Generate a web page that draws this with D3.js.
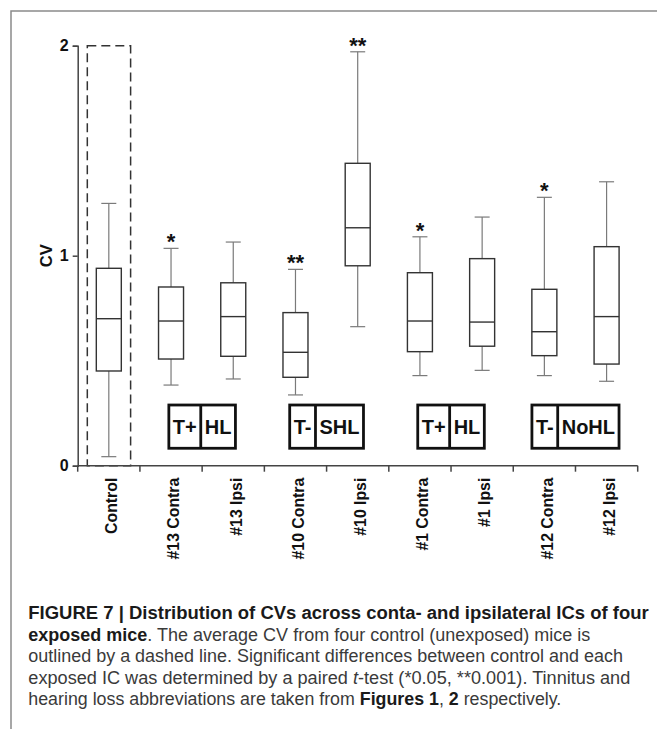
<!DOCTYPE html>
<html>
<head>
<meta charset="utf-8">
<script src="https://cdn.jsdelivr.net/npm/d3@7/dist/d3.min.js"></script>
<style>
  html, body { margin: 0; padding: 0; background: #fff; }
  svg { display: block; }
</style>
</head>
<body>
<svg id="chart" width="657" height="729"></svg>
<script>
// ---------------- data ----------------
const categories = ["Control", "#13 Contra", "#13 Ipsi", "#10 Contra", "#10 Ipsi", "#1 Contra", "#1 Ipsi", "#12 Contra", "#12 Ipsi"];
const whiskerLow  = [0.043, 0.384, 0.413, 0.337, 0.662, 0.429, 0.454, 0.429, 0.402];
const q1Values    = [0.451, 0.508, 0.521, 0.421, 0.952, 0.543, 0.569, 0.524, 0.484];
const medians     = [0.700, 0.689, 0.710, 0.540, 1.133, 0.689, 0.684, 0.638, 0.710];
const q3Values    = [0.940, 0.851, 0.871, 0.729, 1.440, 0.919, 0.986, 0.840, 1.043];
const whiskerHigh = [1.249, 1.035, 1.065, 0.935, 1.971, 1.090, 1.184, 1.278, 1.352];
const significance = ["", "*", "", "**", "**", "*", "", "*", ""];
const yTicks = [0, 1, 2];
const controlOutline = [0, 2];            // dashed outline spans CV 0..2
const groupPairs = [["#13 Contra", "#13 Ipsi"], ["#10 Contra", "#10 Ipsi"], ["#1 Contra", "#1 Ipsi"], ["#12 Contra", "#12 Ipsi"]];
const groupTinnitus = ["T+", "T-", "T+", "T-"];
const groupHearing  = ["HL", "SHL", "HL", "NoHL"];
const captionLines = [
  [{t: "FIGURE 7 | Distribution of CVs across conta- and ipsilateral ICs of four", b: 1}],
  [{t: "exposed mice", b: 1}, {t: ". The average CV from four control (unexposed) mice is"}],
  [{t: "outlined by a dashed line. Significant differences between control and each"}],
  [{t: "exposed IC was determined by a paired "}, {t: "t", i: 1}, {t: "-test (*0.05, **0.001). Tinnitus and"}],
  [{t: "hearing loss abbreviations are taken from "}, {t: "Figures 1", b: 1}, {t: ", "}, {t: "2", b: 1}, {t: " respectively."}]
];
const captionEnds = [648.7, 590.3, 623, 630.3, 561.3];

// ---------------- layout ----------------
const FONT = "'Liberation Sans', Arial, Helvetica, sans-serif";
const svg = d3.select("#chart");
const x = d3.scaleBand().domain(categories).range([77.7, 637.7]).padding(0);
const y = d3.scaleLinear().domain([0, 2]).range([465.7, 45.7]);
const boxW = 25, capW = 15;

// outer frame
svg.append("rect").attr("x", 11).attr("y", 11).attr("width", 720).attr("height", 800)
  .attr("fill", "none").attr("stroke", "#8a8a8a").attr("stroke-width", 1.5);

// dashed control outline
const cx0 = x("Control") + x.bandwidth() / 2;
svg.append("rect")
  .attr("x", cx0 - 21.5).attr("width", 43.3)
  .attr("y", y(controlOutline[1])).attr("height", y(controlOutline[0]) - y(controlOutline[1]))
  .attr("fill", "none").attr("stroke", "#333").attr("stroke-width", 1.5)
  .attr("stroke-dasharray", "9,5");

// boxes
const data = categories.map((c, i) => ({c, lo: whiskerLow[i], q1: q1Values[i], md: medians[i], q3: q3Values[i], hi: whiskerHigh[i], s: significance[i]}));
const g = svg.append("g").selectAll("g").data(data).join("g")
  .attr("transform", d => `translate(${x(d.c) + x.bandwidth() / 2},0)`);

g.append("line").attr("x1", 0).attr("x2", 0).attr("y1", d => y(d.hi)).attr("y2", d => y(d.q3))
  .attr("stroke", "#7a7a7a").attr("stroke-width", 1.2);
g.append("line").attr("x1", 0).attr("x2", 0).attr("y1", d => y(d.q1)).attr("y2", d => y(d.lo))
  .attr("stroke", "#7a7a7a").attr("stroke-width", 1.2);
g.append("line").attr("x1", -capW / 2).attr("x2", capW / 2).attr("y1", d => y(d.hi)).attr("y2", d => y(d.hi))
  .attr("stroke", "#7a7a7a").attr("stroke-width", 1.2);
g.append("line").attr("x1", -capW / 2).attr("x2", capW / 2).attr("y1", d => y(d.lo)).attr("y2", d => y(d.lo))
  .attr("stroke", "#7a7a7a").attr("stroke-width", 1.2);
g.append("rect").attr("x", -boxW / 2).attr("width", boxW)
  .attr("y", d => y(d.q3)).attr("height", d => y(d.q1) - y(d.q3))
  .attr("fill", "#fff").attr("stroke", "#333").attr("stroke-width", 1.4);
g.append("line").attr("x1", -boxW / 2).attr("x2", boxW / 2).attr("y1", d => y(d.md)).attr("y2", d => y(d.md))
  .attr("stroke", "#333").attr("stroke-width", 1.4);
g.filter(d => d.s).append("text")
  .attr("x", 0).attr("y", d => y(d.hi) + 1)
  .attr("text-anchor", "middle").attr("font-family", FONT).attr("font-weight", "bold")
  .attr("font-size", 22).attr("fill", "#111").text(d => d.s);

// y axis
const yAxis = svg.append("g").attr("transform", `translate(77.7,0)`)
  .call(d3.axisLeft(y).tickValues(yTicks).tickFormat(d3.format("d")).tickSize(5).tickPadding(4));
yAxis.select(".domain").attr("stroke", "#444").attr("stroke-width", 1.5);
yAxis.selectAll(".tick line").attr("stroke", "#444").attr("stroke-width", 1.5);
yAxis.selectAll(".tick text").attr("font-family", FONT).attr("font-weight", "bold")
  .attr("font-size", 16).attr("fill", "#111");

svg.append("text").attr("transform", `translate(52,${(y(0) + y(2)) / 2}) rotate(-90)`)
  .attr("text-anchor", "middle").attr("font-family", FONT).attr("font-weight", "bold")
  .attr("font-size", 16.5).attr("fill", "#111").text("CV");

// x axis
const xAxisG = svg.append("g").attr("transform", `translate(0,${y(0)})`);
xAxisG.append("line").attr("x1", x.range()[0]).attr("x2", x.range()[1]).attr("y1", 0).attr("y2", 0)
  .attr("stroke", "#444").attr("stroke-width", 1.5);
const boundaries = categories.map(c => x(c)).concat([x.range()[1]]);
xAxisG.selectAll("line.tk").data(boundaries).join("line").attr("class", "tk")
  .attr("x1", d => d).attr("x2", d => d).attr("y1", 0).attr("y2", 6)
  .attr("stroke", "#444").attr("stroke-width", 1.5);
svg.append("g").selectAll("text").data(categories).join("text")
  .attr("transform", c => `translate(${x(c) + x.bandwidth() / 2 + 8.3},${y(0) + 12}) rotate(-90)`)
  .attr("text-anchor", "end").attr("font-family", FONT).attr("font-weight", "bold")
  .attr("font-size", 17).attr("fill", "#111").text(c => c)
  .each(function () {
    const len = this.getComputedTextLength();
    d3.select(this).attr("textLength", len * 0.93).attr("lengthAdjust", "spacingAndGlyphs");
  });

// group label boxes
const lblTop = y(0.289), lblBot = y(0.083), pad = 4;
groupPairs.forEach((pair, i) => {
  const cx = x(pair[1]);
  const gg = svg.append("g");
  const t1 = gg.append("text").attr("font-family", FONT).attr("font-weight", "bold").attr("font-size", 20)
    .attr("fill", "#111").attr("text-anchor", "middle").text(groupTinnitus[i]);
  const t2 = gg.append("text").attr("font-family", FONT).attr("font-weight", "bold").attr("font-size", 20)
    .attr("fill", "#111").attr("text-anchor", "middle").text(groupHearing[i]);
  const w1 = t1.node().getComputedTextLength() + 2 * pad;
  const w2 = t2.node().getComputedTextLength() + 2 * pad;
  const left = cx - (w1 + w2) / 2;
  const ty = (lblTop + lblBot) / 2 + 7;
  t1.attr("x", left + w1 / 2).attr("y", ty);
  t2.attr("x", left + w1 + w2 / 2).attr("y", ty);
  gg.insert("rect", "text").attr("x", left).attr("y", lblTop).attr("width", w1 + w2).attr("height", lblBot - lblTop)
    .attr("fill", "#fff").attr("stroke", "#111").attr("stroke-width", 2.8);
  gg.append("line").attr("x1", left + w1).attr("x2", left + w1).attr("y1", lblTop).attr("y2", lblBot)
    .attr("stroke", "#111").attr("stroke-width", 2.8);
});

// caption
const capX = 28.3, capY0 = 619.3, capDY = 21.4;
captionLines.forEach((line, i) => {
  const t = svg.append("text").attr("x", capX).attr("y", capY0 + i * capDY)
    .attr("font-family", FONT).attr("font-size", 17.5).attr("fill", "#3a3a3a");
  line.forEach(seg => {
    t.append("tspan").text(seg.t)
      .attr("font-weight", seg.b ? "bold" : "normal")
      .attr("font-style", seg.i ? "italic" : "normal")
      .attr("fill", seg.b ? "#1a1a1a" : "#3a3a3a");
  });
  t.attr("textLength", captionEnds[i] - capX).attr("lengthAdjust", "spacingAndGlyphs");
});
</script>
</body>
</html>
